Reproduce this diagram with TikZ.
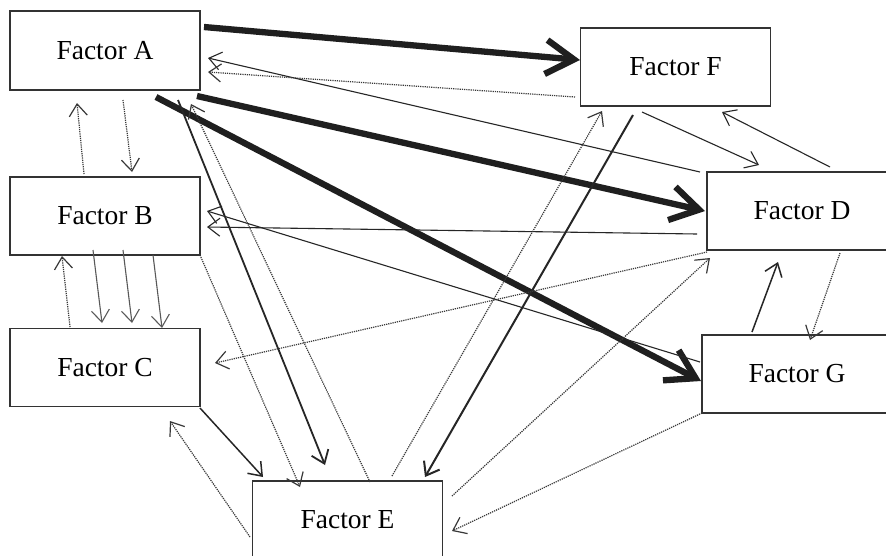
\documentclass[tikz,border=0pt]{standalone}
\usepackage{fontspec}
\setmainfont{Liberation Serif}
\usetikzlibrary{arrows.meta,calc}
\begin{document}
\begin{tikzpicture}[x=1pt,y=-1pt,
  box/.style={draw=black!80, line width=1.3pt, minimum width=190pt, minimum height=78pt, inner sep=0pt, font=\fontsize{27.5}{30}\selectfont, text=black},
  heavy/.style={line width=6.3pt, draw=black!88, -{Straight Barb[length=28pt,width=34pt]}},
  thinline/.style={line width=1.1pt, draw=black!85, -{Straight Barb[length=12pt,width=18pt]}},
  midline/.style={thinline, line width=1.8pt},
  greyline/.style={thinline, draw=black!65},
  dots/.style={line width=1.2pt, draw=black!78, dash pattern=on 1.2pt off 1pt, -{Straight Barb[length=12pt,width=18pt]}},
]
\useasboundingbox (0,0) rectangle (886,555);
\clip (0,0) rectangle (886,555);
\fill[white] (0,0) rectangle (886,555);

\node[box, minimum height=79pt] (A) at (105,50.5) {Factor A};
\node[box] (B) at (105,216) {Factor B};
\node[box] (C) at (105,367.5) {Factor C};
\node[box] (E) at (347.5,520) {Factor E};
\node[box] (F) at (675.5,67) {Factor F};
\node[box] (D) at (802,211) {Factor D};
\node[box] (G) at (797,374) {Factor G};

% thick arrows
\draw[heavy] ($(A)+(99,-23.5)$) -- ($(F)+(-95.5,-7)$);
\draw[heavy] ($(A)+(92,45.5)$) -- ($(D)+(-97,0)$);
\draw[heavy] ($(A)+(51,46.5)$) -- ($(G)+(-96,7)$);

% thin solid arrows
\draw[thinline] ($(D)+(-102,-39)$) -- ($(A)+(103,7.5)$);
\draw[thinline] ($(D)+(-105,23)$) -- ($(B)+(102,11)$);
\draw[thinline] ($(G)+(-97,-12)$) -- ($(B)+(102,-5)$);
\draw[thinline, line width=1.5pt] ($(G)+(-45,-42)$) -- ($(D)+(-24,51)$);
\draw[thinline] ($(D)+(28,-44)$) -- ($(F)+(46.5,45)$);
\draw[thinline] ($(F)+(-33.5,45)$) -- ($(D)+(-43,-46)$);
\draw[midline, line width=2pt] ($(F)+(-42.5,48)$) -- ($(E)+(77.5,-43)$);
\draw[midline] ($(A)+(73,49.5)$) -- ($(E)+(-22.5,-55)$);
\draw[thinline, line width=1.5pt] ($(C)+(95,40.5)$) -- ($(E)+(-84.5,-43)$);
\draw[greyline] ($(B)+(-12,34)$) -- ($(C)+(-3,-44.5)$);
\draw[greyline] ($(B)+(18,34)$) -- ($(C)+(27,-44.5)$);
\draw[greyline] ($(B)+(48,39)$) -- ($(C)+(57,-39.5)$);

% dotted arrows
\draw[dots] ($(F)+(-100.5,30)$) -- ($(A)+(103,21.5)$);
\draw[dots] ($(A)+(18,49.5)$) -- ($(B)+(27,-44)$);
\draw[dots] ($(B)+(-21,-42)$) -- ($(A)+(-28,52.5)$);
\draw[dots] ($(C)+(-35,-40.5)$) -- ($(B)+(-43,40)$);
\draw[dots] ($(D)+(-95,41)$) -- ($(C)+(110,-4.5)$);
\draw[dots] ($(E)+(104.5,-24)$) -- ($(D)+(-92,47)$);
\draw[dots] ($(G)+(-95,39)$) -- ($(E)+(104.5,11)$);
\draw[dots] ($(D)+(38,42)$) -- ($(G)+(13,-34)$);
\draw[dots] ($(E)+(44.5,-44)$) -- ($(F)+(-73.5,44)$);
\draw[dots] ($(E)+(22.5,-38)$) -- ($(A)+(86,53.5)$);
\draw[dots] ($(B)+(95,39)$) -- ($(E)+(-47.5,-33)$);
\draw[dots] ($(E)+(-97.5,17)$) -- ($(C)+(65,53.5)$);
\end{tikzpicture}
\end{document}
